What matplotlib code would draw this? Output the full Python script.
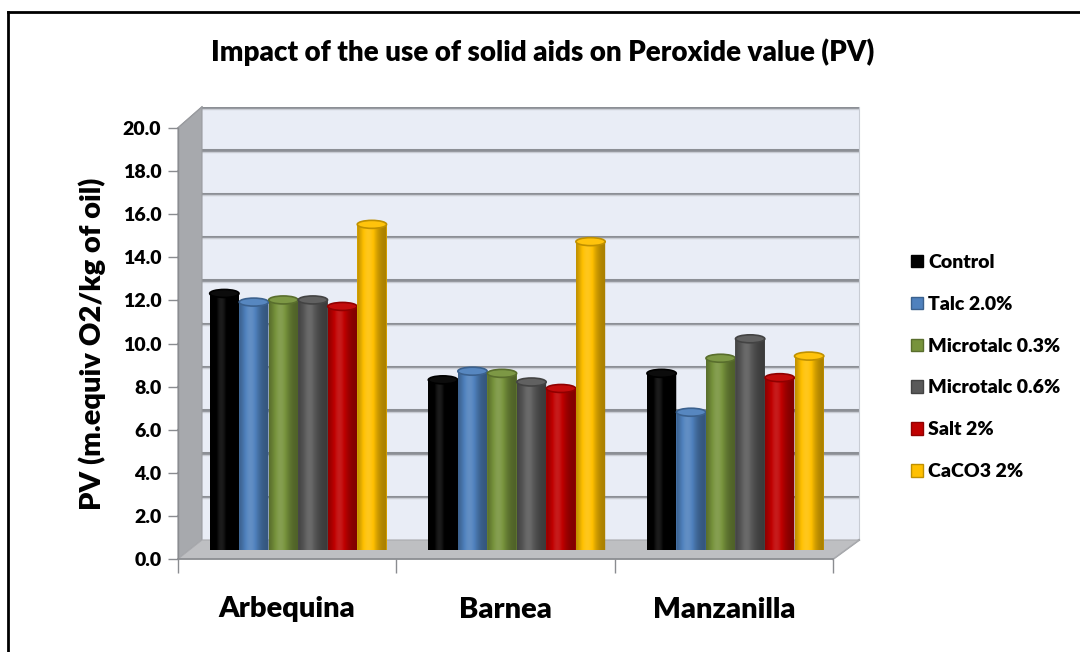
import numpy as np
import matplotlib
matplotlib.use('Agg')
import matplotlib.pyplot as plt
from matplotlib.patches import Polygon, Ellipse, PathPatch
from matplotlib.path import Path
from matplotlib.lines import Line2D
from matplotlib.colors import to_rgb

# ---------------- data ----------------
categories = ['Arbequina', 'Barnea', 'Manzanilla']
series_names = ['Control', 'Talc 2.0%', 'Microtalc 0.3%', 'Microtalc 0.6%', 'Salt 2%', 'CaCO3 2%']
control = [11.9, 7.9, 8.2]
talc_2 = [11.5, 8.3, 6.4]
microtalc_03 = [11.6, 8.2, 8.9]
microtalc_06 = [11.6, 7.8, 9.8]
salt_2 = [11.3, 7.5, 8.0]
caco3_2 = [15.1, 14.3, 9.0]
y_ticks = [0, 2, 4, 6, 8, 10, 12, 14, 16, 18, 20]
y_tick_labels = ['0.0', '2.0', '4.0', '6.0', '8.0', '10.0', '12.0', '14.0', '16.0', '18.0', '20.0']
title = 'Impact of the use of solid aids on Peroxide value (PV)'
y_label = 'PV (m.equiv O2/kg of oil)'

series_values = [control, talc_2, microtalc_03, microtalc_06, salt_2, caco3_2]
colors = ['#000000', '#4F81BD', '#77933C', '#595959', '#C00000', '#FFC000']

FONT = ['Lato', 'DejaVu Sans']
WEIGHT = 'heavy'
plt.rcParams['font.family'] = FONT

W, H = 1080, 652
fig = plt.figure(figsize=(10.8, 6.52), dpi=100)


def px_rect(l, r, top, bottom):
    return [l / W, 1 - bottom / H, (r - l) / W, (bottom - top) / H]


def fx(x):
    return x / W


def fy(y):
    return 1 - y / H


YMAX = 20.0
F_L, F_R, F_B, F_T = 178, 833, 559, 128
B_L, B_R, B_B, B_T = 202, 859, 540, 107
f = 0.45
M_L = F_L + f * (B_L - F_L)
M_R = F_R + f * (B_R - F_R)
M_B = F_B + f * (B_B - F_B)
M_T = F_T + f * (B_T - F_T)

# ---------------- back wall ----------------
axb = fig.add_axes(px_rect(B_L, B_R, B_T, B_B), zorder=-3)
axb.set_xlim(0, len(categories))
axb.set_ylim(0, YMAX)
axb.set_facecolor('#E9EDF6')
axb.set_xticks([])
axb.set_yticks([])
for v in y_ticks[1:]:
    axb.axhline(v, color='#8C8F95', lw=2.2, zorder=1)
    axb.axhline(v - 0.07, color='#C9CCD3', lw=1.0, zorder=1)
for s in axb.spines.values():
    s.set_visible(False)
axb.spines['right'].set_visible(True)
axb.spines['right'].set_color('#C8CCD4')

# ---------------- side wall & floor ----------------
side = Polygon([(fx(F_L), fy(F_B)), (fx(F_L), fy(F_T)), (fx(B_L), fy(B_T)), (fx(B_L), fy(B_B))],
               closed=True, transform=fig.transFigure, facecolor='#A7A9AD',
               edgecolor='#9A9CA0', lw=0.8, zorder=-2)
fig.patches.append(side)
for v in y_ticks[1:]:
    yf = F_B - (F_B - F_T) * v / YMAX
    yb = B_B - (B_B - B_T) * v / YMAX
    fig.lines.append(Line2D([fx(F_L), fx(B_L)], [fy(yf), fy(yb)], transform=fig.transFigure,
                            color='#8E9094', lw=1.2, zorder=-2))
floor = Polygon([(fx(F_L), fy(F_B)), (fx(F_R), fy(F_B)), (fx(B_R), fy(B_B)), (fx(B_L), fy(B_B))],
                closed=True, transform=fig.transFigure, facecolor='#BEBFC2',
                edgecolor='#A9AAAE', lw=0.8, zorder=-2)
fig.patches.append(floor)
fig.lines.append(Line2D([fx(F_R), fx(B_R)], [fy(F_B), fy(B_B)], transform=fig.transFigure,
                        color='#A0A2A6', lw=1.5, zorder=-2))

# ---------------- bars ----------------
ax = fig.add_axes(px_rect(M_L, M_R, M_T, M_B), zorder=-1)
ax.set_xlim(0, len(categories))
ax.set_ylim(0, YMAX)
ax.patch.set_visible(False)
ax.axis('off')

pitch = 0.135
bw = 0.134
x_cat = np.arange(len(categories)) + 0.5
px_per_unit = (M_B - M_T) / YMAX
eh = 8.0 / px_per_unit


def shade(base, t):
    s = 0.66 + 0.46 * np.exp(-((t - 0.38) / 0.30) ** 2)
    base = np.array(base)
    out = np.empty((len(t), 3))
    for i, si in enumerate(s):
        if si <= 1:
            out[i] = base * si
        else:
            out[i] = base + (1 - base) * (si - 1) * 0.9
    return np.clip(out, 0, 1)


t = np.linspace(0, 1, 64)
for i, (vals, col) in enumerate(zip(series_values, colors)):
    xs = x_cat + (i - 2.5) * pitch
    bars = ax.bar(xs, vals, width=bw, color=col, edgecolor='none', zorder=2 + i * 0.01)
    base = np.array(to_rgb(col))
    grad = shade(base, t)[None, :, :]
    for b in bars:
        x0 = b.get_x()
        w = b.get_width()
        v = b.get_height()
        xc = x0 + w / 2
        arc = np.linspace(np.pi, 2 * np.pi, 40)
        verts = [(x0, v), (x0, 0)]
        verts += [(xc + w / 2 * np.cos(a), eh / 2 * np.sin(a)) for a in arc]
        verts += [(x0 + w, v), (x0, v)]
        codes = [Path.MOVETO] + [Path.LINETO] * (len(verts) - 2) + [Path.CLOSEPOLY]
        body = PathPatch(Path(verts, codes), facecolor='none', edgecolor='none', transform=ax.transData)
        ax.add_patch(body)
        im = ax.imshow(grad, extent=[x0, x0 + w, -eh, v], aspect='auto', zorder=b.get_zorder() + 0.001,
                       interpolation='bilinear')
        im.set_clip_path(body)
        top_col = shade(base, np.array([0.5]))[0]
        rim = base * 0.75
        ax.add_patch(Ellipse((xc, v), w, eh, facecolor=top_col, edgecolor=rim, lw=1.2,
                             zorder=b.get_zorder() + 0.002))
ax.set_xlim(0, len(categories))
ax.set_ylim(0, YMAX)
ax.set_aspect('auto')

# ---------------- front axes ----------------
axf = fig.add_axes(px_rect(F_L, F_R, F_T, F_B), zorder=1)
axf.set_xlim(0, len(categories))
axf.set_ylim(0, YMAX)
axf.patch.set_visible(False)
for s in ['top', 'right']:
    axf.spines[s].set_visible(False)
axf.spines['left'].set_color('#8A8C90')
axf.spines['bottom'].set_color('#8A8C90')
axf.spines['left'].set_linewidth(1.0)
axf.spines['bottom'].set_linewidth(1.2)
axf.set_yticks(y_ticks)
axf.set_yticklabels(y_tick_labels, fontsize=14, fontweight=WEIGHT)
axf.tick_params(axis='y', length=7, width=1.0, color='#8A8C90', pad=5)
axf.set_xticks(np.arange(len(categories) + 1))
axf.set_xticklabels([])
axf.tick_params(axis='x', which='major', length=10, width=1.0, color='#8A8C90')
axf.set_xticks(x_cat, minor=True)
axf.set_xticklabels(categories, minor=True, fontsize=21, fontweight=WEIGHT)
axf.tick_params(axis='x', which='minor', length=0, pad=27)
axf.set_ylabel(y_label, fontsize=21, fontweight=WEIGHT, labelpad=12)

# ---------------- title ----------------
fig.text(fx(543), fy(52), title, ha='center', va='center', fontsize=20, fontweight=WEIGHT)

# ---------------- legend ----------------
handles = [plt.Rectangle((0, 0), 1, 1, facecolor=c,
                         edgecolor=(np.array(to_rgb(c)) * 0.75), lw=1.0) for c in colors]
leg = fig.legend(handles, series_names, loc='center left', bbox_to_anchor=(fx(911), fy(367)),
                 frameon=False, prop={'weight': WEIGHT, 'size': 14},
                 handlelength=0.6, handleheight=0.6, handletextpad=0.3, labelspacing=1.28,
                 borderaxespad=0, borderpad=0)

# ---------------- outer border ----------------
fig.lines.append(Line2D([fx(8), fx(8)], [fy(652), fy(12)], transform=fig.transFigure, color='black', lw=2))
fig.lines.append(Line2D([fx(8), fx(1080)], [fy(12), fy(12)], transform=fig.transFigure, color='black', lw=2))

fig.savefig('out.png', dpi=100)
